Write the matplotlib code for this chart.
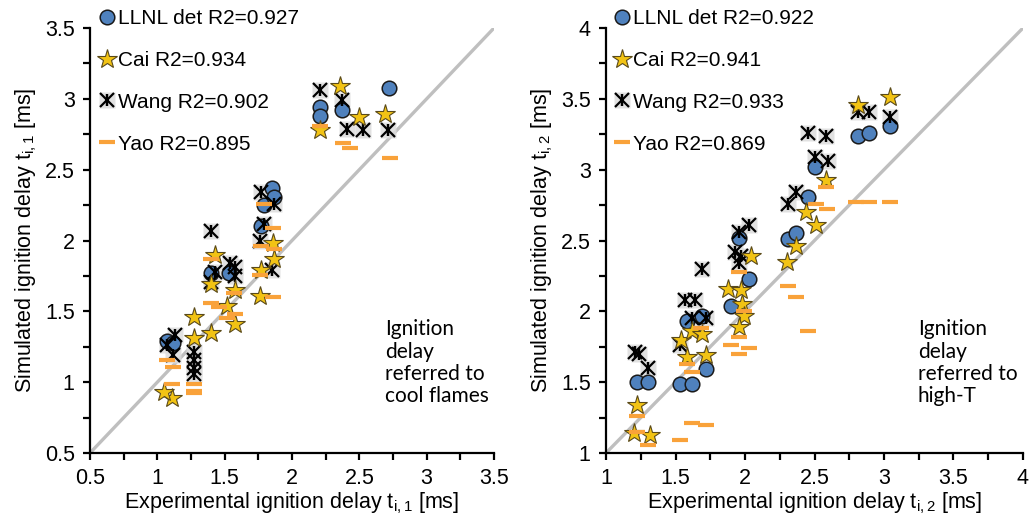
import matplotlib
matplotlib.use("Agg")
import matplotlib.pyplot as plt
from matplotlib.ticker import MultipleLocator

plt.rcParams['font.family'] = ['Liberation Sans', 'DejaVu Sans']
plt.rcParams['mathtext.fontset'] = 'custom'
plt.rcParams['mathtext.rm'] = 'Liberation Sans'
plt.rcParams['mathtext.it'] = 'Liberation Sans'
plt.rcParams['mathtext.default'] = 'regular'

# ---------------- data: left panel (cool flame, t_i,1) ----------------
l_llnl_x = [1.07, 1.12, 1.40, 1.53, 1.77, 1.79, 1.85, 1.87, 2.21, 2.21, 2.37, 2.72]
l_llnl_y = [1.29, 1.28, 1.77, 1.77, 2.10, 2.25, 2.37, 2.31, 2.94, 2.88, 2.92, 3.08]

l_cai_x = [1.86, 1.87, 1.77, 1.76, 1.43, 1.40, 1.58, 1.52, 1.58, 1.40, 1.27, 1.27, 1.11, 1.05,
           2.21, 2.36, 2.50, 2.69]
l_cai_y = [1.98, 1.87, 1.79, 1.61, 1.90, 1.69, 1.65, 1.54, 1.41, 1.35, 1.46, 1.31, 0.89, 0.93,
           2.78, 3.09, 2.87, 2.89]

l_wang_x = [1.77, 1.87, 1.79, 1.76, 1.85, 1.40, 1.54, 1.58, 1.43, 1.58, 1.40, 1.13, 1.07, 1.12,
            1.27, 1.27, 1.27, 1.27, 2.21, 2.37, 2.41, 2.53, 2.71]
l_wang_y = [2.34, 2.26, 2.12, 2.00, 1.79, 2.07, 1.84, 1.81, 1.78, 1.75, 1.71, 1.33, 1.26, 1.19,
            1.21, 1.16, 1.10, 1.06, 3.06, 2.99, 2.79, 2.78, 2.78]

l_yao_x = [1.79, 1.86, 1.77, 1.87, 1.76, 1.86, 1.40, 1.57, 1.40, 1.46, 1.58, 1.52, 1.07, 1.12,
           1.27, 1.27, 1.27, 1.11, 2.21, 2.38, 2.43, 2.73]
l_yao_y = [2.26, 2.09, 1.96, 1.94, 1.76, 1.60, 1.87, 1.63, 1.56, 1.53, 1.48, 1.45, 1.16, 1.11,
           0.99, 0.94, 0.92, 0.99, 2.81, 2.69, 2.65, 2.58]

# ---------------- data: right panel (high-T, t_i,2) ----------------
r_llnl_x = [1.22, 1.30, 1.53, 1.62, 1.72, 1.58, 1.69, 1.90, 2.03, 1.96, 2.31, 2.37, 2.45, 2.50,
            2.81, 2.89, 3.04]
r_llnl_y = [1.50, 1.50, 1.49, 1.49, 1.59, 1.93, 1.97, 2.04, 2.23, 2.52, 2.51, 2.55, 2.81, 3.02,
            3.24, 3.26, 3.31]

r_cai_x = [1.22, 1.20, 1.32, 1.54, 1.58, 1.72, 1.62, 1.69, 1.88, 1.97, 1.98, 1.99, 1.96, 2.04,
           2.30, 2.37, 2.44, 2.51, 2.58, 2.81, 3.04]
r_cai_y = [1.34, 1.14, 1.13, 1.80, 1.68, 1.69, 1.86, 1.84, 2.16, 2.15, 2.05, 1.97, 1.89, 2.39,
           2.35, 2.46, 2.70, 2.61, 2.93, 3.46, 3.51]

r_wang_x = [1.21, 1.24, 1.30, 1.53, 1.62, 1.72, 1.57, 1.64, 1.69, 1.93, 1.97, 1.96, 1.96, 2.03,
            2.31, 2.37, 2.45, 2.58, 2.50, 2.60, 2.81, 2.89, 3.04]
r_wang_y = [1.71, 1.70, 1.60, 1.76, 1.95, 1.95, 2.08, 2.08, 2.30, 2.42, 2.39, 2.34, 2.56, 2.61,
            2.76, 2.84, 3.26, 3.24, 3.09, 3.06, 3.41, 3.41, 3.37]

r_yao_x = [1.22, 1.22, 1.30, 1.53, 1.62, 1.72, 1.58, 1.62, 1.68, 1.90, 1.96, 1.96, 2.03, 1.99,
           1.96, 2.31, 2.37, 2.45, 2.51, 2.59, 2.58, 2.80, 2.89, 3.04]
r_yao_y = [1.26, 1.15, 1.06, 1.09, 1.21, 1.20, 1.63, 1.57, 1.88, 1.76, 1.82, 1.70, 1.74, 2.00,
           2.28, 2.18, 2.10, 1.86, 2.76, 2.72, 2.88, 2.77, 2.77, 2.77]

left_labels = ["LLNL det R2=0.927", "Cai R2=0.934", "Wang R2=0.902", "Yao R2=0.895"]
right_labels = ["LLNL det R2=0.922", "Cai R2=0.941", "Wang R2=0.933", "Yao R2=0.869"]
left_ticks = [0.5, 1.0, 1.5, 2.0, 2.5, 3.0, 3.5]
left_ticklabels = ['0.5', '1', '1.5', '2', '2.5', '3', '3.5']
right_ticks = [1.0, 1.5, 2.0, 2.5, 3.0, 3.5, 4.0]
right_ticklabels = ['1', '1.5', '2', '2.5', '3', '3.5', '4']

# ---------------- styling ----------------
BLUE = '#4F81BD'
GOLD = '#F2C314'
ORANGE = '#F9A23A'
GRAY_BG = '#DCDCDC'
DIAG = '#BFBFBF'

fig = plt.figure(figsize=(10.34, 5.27), dpi=100)
axL = fig.add_axes([90/1034, 74/527, 404/1034, 425/527])
axR = fig.add_axes([606/1034, 74/527, 417/1034, 425/527])


def draw(ax, ticks, ticklabels, llnl, cai, wang, yao, labels, xl, yl, note, note_x, leg_x):
    lim = (ticks[0], ticks[-1])
    ax.plot(lim, lim, color=DIAG, lw=2.4, zorder=1, solid_capstyle='butt')
    hb = ax.plot(llnl[0], llnl[1], ls='none', marker='o', ms=10.5, mfc=BLUE,
                 mec='#1a1a1a', mew=1.1, zorder=3)[0]
    ws = ax.plot(wang[0], wang[1], ls='none', marker='s', ms=11, mfc=GRAY_BG,
                 mec='none', alpha=0.85, zorder=2)[0]
    wx = ax.plot(wang[0], wang[1], ls='none', marker='x', ms=10, mec='black',
                 mew=1.6, zorder=4)[0]
    wv = ax.plot(wang[0], wang[1], ls='none', marker=(2, 2, 0), ms=8, mec='black',
                 mew=1.6, zorder=4)[0]
    hc = ax.plot(cai[0], cai[1], ls='none', marker='*', ms=15, mfc=GOLD,
                 mec='#5a4a1a', mew=0.8, zorder=5)[0]
    hy = ax.plot(yao[0], yao[1], ls='none', marker='_', ms=12, mec=ORANGE,
                 mew=3.0, zorder=6)[0]

    ax.set_xlim(lim)
    ax.set_ylim(lim)
    for s in ['top', 'right']:
        ax.spines[s].set_visible(False)
    for s in ['left', 'bottom']:
        ax.spines[s].set_linewidth(1.6)
    ax.set_xticks(ticks)
    ax.set_xticklabels(ticklabels)
    ax.set_yticks(ticks)
    ax.set_yticklabels(ticklabels)
    ax.xaxis.set_minor_locator(MultipleLocator(0.25))
    ax.yaxis.set_minor_locator(MultipleLocator(0.25))
    ax.tick_params(which='both', direction='out', length=5, width=1.6,
                   labelsize=15.5, pad=6)
    ax.set_xlabel(xl, fontsize=15.5, labelpad=1)
    ax.set_ylabel(yl, fontsize=15.5, labelpad=4)

    ax.legend([hb, hc, (ws, wx, wv), hy], labels, loc='upper left',
              bbox_to_anchor=(leg_x, 1.045), frameon=False, fontsize=15,
              handlelength=0.7, handletextpad=0.15, labelspacing=1.1,
              borderpad=0.0, borderaxespad=0.0)
    ax.text(note_x, 0.315, note, transform=ax.transAxes, ha='left', va='top',
            fontsize=15, family=['Lato', 'DejaVu Sans'], linespacing=1.15)


draw(axL, left_ticks, left_ticklabels, (l_llnl_x, l_llnl_y), (l_cai_x, l_cai_y),
     (l_wang_x, l_wang_y), (l_yao_x, l_yao_y), left_labels,
     "Experimental ignition delay t$_{i,1}$ [ms]",
     "Simulated ignition delay t$_{i,1}$ [ms]",
     "Ignition\ndelay\nreferred to\ncool flames", 0.73, 0.025)
draw(axR, right_ticks, right_ticklabels, (r_llnl_x, r_llnl_y), (r_cai_x, r_cai_y),
     (r_wang_x, r_wang_y), (r_yao_x, r_yao_y), right_labels,
     "Experimental ignition delay t$_{i,2}$ [ms]",
     "Simulated ignition delay t$_{i,2}$ [ms]",
     "Ignition\ndelay\nreferred to\nhigh-T", 0.748, 0.022)

fig.savefig('out.png', dpi=100)
